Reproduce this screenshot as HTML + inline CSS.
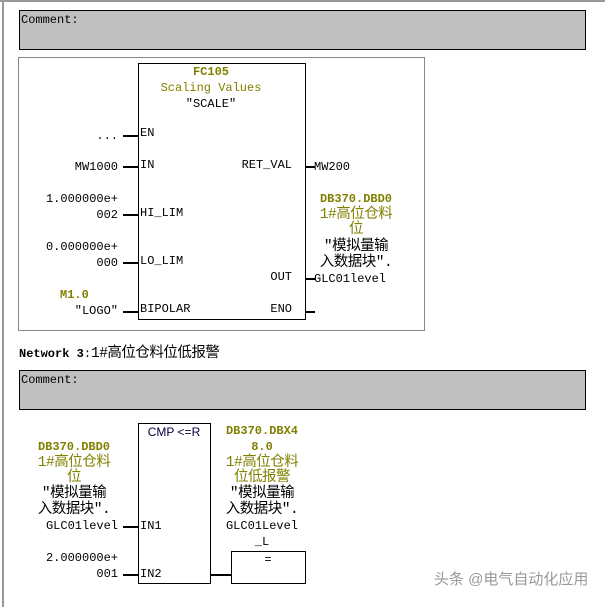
<!DOCTYPE html>
<html><head><meta charset="utf-8"><style>
body{margin:0;width:605px;height:607px;background:#fff;position:relative;overflow:hidden;font-family:"Liberation Mono","Noto Sans CJK SC",monospace;font-size:12px;color:#000}
.a{position:absolute;white-space:nowrap;line-height:16px;height:16px}
.o{color:#808000}.b{font-weight:bold}
.k{font-size:14.5px;letter-spacing:-0.5px}
.box{position:absolute;border:1px solid #000;box-sizing:border-box;background:#fff}
.w{position:absolute;height:2px;background:#000}
.c{position:absolute;text-align:center;width:120px}
.r{position:absolute;text-align:right}
</style></head><body>
<div style="position:absolute;left:2px;top:0;width:2px;height:607px;background:#999"></div>
<div style="position:absolute;left:0;top:0;width:605px;height:2px;background:#999"></div>
<div class="box" style="left:19px;top:10px;width:567px;height:40px;background:#c0c0c0"></div>
<div class="a" style="left:21px;top:12px">Comment:</div>
<div style="position:absolute;left:18px;top:57px;width:407px;height:274px;border:1px solid #888;box-sizing:border-box"></div>
<div class="box" style="left:138px;top:63px;width:168px;height:257px"></div>
<div class="c a o b" style="left:151px;top:64px;width:120px">FC105</div>
<div class="c a o" style="left:151px;top:80px;width:120px">Scaling Values</div>
<div class="c a" style="left:151px;top:96px;width:120px">"SCALE"</div>
<div class="w" style="left:123px;top:135px;width:15px"></div>
<div class="w" style="left:123px;top:166px;width:15px"></div>
<div class="w" style="left:123px;top:214px;width:15px"></div>
<div class="w" style="left:123px;top:262px;width:15px"></div>
<div class="w" style="left:123px;top:311px;width:15px"></div>
<div class="w" style="left:305px;top:166px;width:10px"></div>
<div class="w" style="left:305px;top:278px;width:10px"></div>
<div class="w" style="left:305px;top:311px;width:10px"></div>
<div class="a" style="left:140px;top:125px">EN</div>
<div class="a" style="left:140px;top:157px">IN</div>
<div class="a" style="left:140px;top:205px">HI_LIM</div>
<div class="a" style="left:140px;top:253px">LO_LIM</div>
<div class="a" style="left:140px;top:301px">BIPOLAR</div>
<div class="r a" style="right:313px;top:157px">RET_VAL</div>
<div class="r a" style="right:313px;top:269px">OUT</div>
<div class="r a" style="right:313px;top:301px">ENO</div>
<div class="r a" style="right:487px;top:128px">...</div>
<div class="r a" style="right:487px;top:159px">MW1000</div>
<div class="r a" style="right:487px;top:191px">1.000000e+</div>
<div class="r a" style="right:487px;top:207px">002</div>
<div class="r a" style="right:487px;top:239px">0.000000e+</div>
<div class="r a" style="right:487px;top:255px">000</div>
<div class="a o b" style="left:60px;top:287px">M1.0</div>
<div class="r a" style="right:487px;top:303px">"LOGO"</div>
<div class="a" style="left:314px;top:159px">MW200</div>
<div class="c a o b" style="left:296px;top:191px">DB370.DBD0</div>
<div class="c a o k" style="left:296px;top:207px">1#高位仓料</div>
<div class="c a o k" style="left:296px;top:222px">位</div>
<div class="c a k" style="left:296px;top:239px">"模拟量输</div>
<div class="c a k" style="left:296px;top:255px">入数据块".</div>
<div class="a" style="left:314px;top:271px">GLC01level</div>
<div class="a" style="left:19px;top:346px"><b>Network 3</b>:<span class="k">1#高位仓料位低报警</span></div>
<div class="box" style="left:19px;top:370px;width:567px;height:40px;background:#c0c0c0"></div>
<div class="a" style="left:21px;top:372px">Comment:</div>
<div class="box" style="left:138px;top:423px;width:73px;height:161px"></div>
<div class="c a" style="left:114px;top:424px;width:120px;font-family:'Liberation Sans',sans-serif;color:#000040">CMP &lt;=R</div>
<div class="w" style="left:123px;top:526px;width:15px"></div>
<div class="w" style="left:123px;top:574px;width:15px"></div>
<div class="w" style="left:210px;top:574px;width:21px"></div>
<div class="box" style="left:231px;top:551px;width:75px;height:33px"></div>
<div class="c a" style="left:208px;top:552px">=</div>
<div class="a" style="left:140px;top:518px">IN1</div>
<div class="a" style="left:140px;top:566px">IN2</div>
<div class="c a o b" style="left:14px;top:439px">DB370.DBD0</div>
<div class="c a o k" style="left:14px;top:455px">1#高位仓料</div>
<div class="c a o k" style="left:14px;top:470px">位</div>
<div class="c a k" style="left:14px;top:486px">"模拟量输</div>
<div class="c a k" style="left:14px;top:502px">入数据块".</div>
<div class="r a" style="right:487px;top:518px">GLC01level</div>
<div class="r a" style="right:487px;top:550px">2.000000e+</div>
<div class="r a" style="right:487px;top:566px">001</div>
<div class="c a o b" style="left:202px;top:423px">DB370.DBX4</div>
<div class="c a o b" style="left:202px;top:439px">8.0</div>
<div class="c a o k" style="left:202px;top:455px">1#高位仓料</div>
<div class="c a o k" style="left:202px;top:470px">位低报警</div>
<div class="c a k" style="left:202px;top:486px">"模拟量输</div>
<div class="c a k" style="left:202px;top:502px">入数据块".</div>
<div class="c a" style="left:202px;top:518px">GLC01Level</div>
<div class="c a" style="left:202px;top:534px">_L</div>
<div class="a" style="left:434px;top:570px;height:20px;line-height:20px;font-family:'Liberation Sans','Noto Sans CJK SC',sans-serif;font-size:15px;color:#999">头条 @电气自动化应用</div>
</body></html>
